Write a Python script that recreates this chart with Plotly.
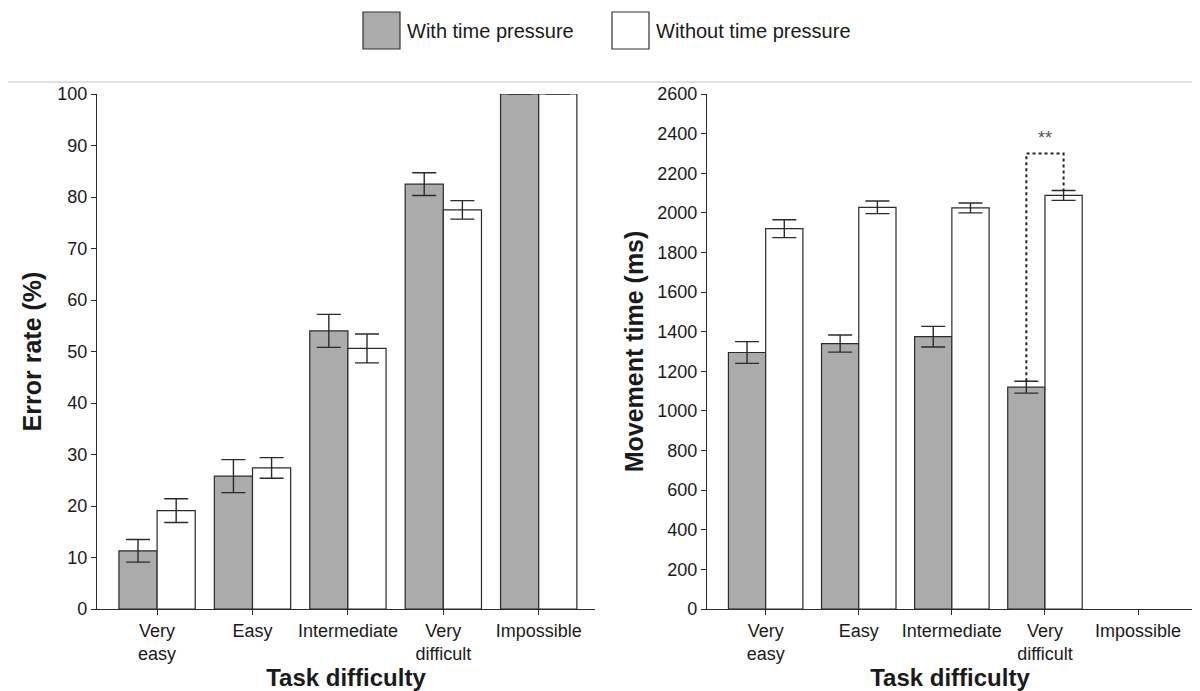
import plotly.graph_objects as go

categories = ["Very<br>easy", "Easy", "Intermediate", "Very<br>difficult", "Impossible"]

# Error rate (%)
err_with = [11.3, 25.8, 54.0, 82.5, 100.0]
err_with_sd = [2.2, 3.2, 3.2, 2.2, 0.0]
err_without = [19.1, 27.4, 50.6, 77.5, 100.0]
err_without_sd = [2.3, 2.0, 2.8, 1.8, 0.0]

# Movement time (ms)
mt_with = [1295, 1340, 1375, 1120, None]
mt_with_sd = [55, 43, 52, 30, None]
mt_without = [1920, 2028, 2025, 2088, None]
mt_without_sd = [45, 32, 25, 25, None]

series_names = ["With time pressure", "Without time pressure"]
sig_label = "**"
sig_height = 2300
sig_index = 3

GRAY = "#ababab"
EDGE = "#2b2b2b"
FONT = "Liberation Sans, Arial, sans-serif"
TXT = "#1a1a1a"

# page body has an 8px margin: figure is placed at (8, 8)
O = 8
W = 1200 - O
H = 691 - O

def fx(px):
    return (px - O) / W

def fy(py):
    return 1 - (py - O) / H

xpos = list(range(len(categories)))

fig = go.Figure()

def add_bars(vals, sds, fill, xa, ya, name):
    fig.add_trace(go.Bar(
        x=xpos, y=vals, name=name, xaxis=xa, yaxis=ya,
        marker=dict(color=fill, line=dict(color=EDGE, width=1.2)),
        error_y=dict(type="data", array=sds, visible=True, color=EDGE,
                     thickness=1.4, width=12),
        showlegend=False,
    ))

add_bars(err_with, err_with_sd, GRAY, "x", "y", series_names[0])
add_bars(err_without, err_without_sd, "white", "x", "y", series_names[1])
add_bars(mt_with, mt_with_sd, GRAY, "x2", "y2", series_names[0])
add_bars(mt_without, mt_without_sd, "white", "x2", "y2", series_names[1])

# significance bracket (dotted)
off = 0.2
fig.add_trace(go.Scatter(
    x=[sig_index - off, sig_index - off, sig_index + off, sig_index + off],
    y=[mt_with[sig_index] + mt_with_sd[sig_index], sig_height, sig_height,
       mt_without[sig_index] + mt_without_sd[sig_index]],
    mode="lines", line=dict(color="#222", width=2, dash="dot"),
    xaxis="x2", yaxis="y2", showlegend=False, hoverinfo="skip",
))
fig.add_annotation(x=sig_index, y=sig_height + 15, xref="x2", yref="y2",
                   text=sig_label, showarrow=False, yanchor="bottom",
                   font=dict(family=FONT, size=18, color="#555"))

xr = [-0.63, 4.59]
xcommon = dict(
    range=xr, tickvals=xpos, ticktext=categories, showline=True,
    linecolor=EDGE, linewidth=1.3, ticks="outside", ticklen=5, tickcolor=EDGE,
    tickfont=dict(family=FONT, size=18, color=TXT), showgrid=False,
    zeroline=False, automargin=False,
    title=dict(text="<b>Task difficulty</b>", standoff=0,
               font=dict(family=FONT, size=24, color=TXT)),
)
ycommon = dict(
    showline=True, linecolor=EDGE, linewidth=1.3, ticks="outside", ticklen=5,
    tickcolor=EDGE, tickfont=dict(family=FONT, size=18, color=TXT),
    showgrid=False, zeroline=False, automargin=False,
)

ydom = [fy(609), fy(94)]
fig.update_layout(
    width=W, height=H,
    margin=dict(l=0, r=0, t=0, b=0),
    paper_bgcolor="white", plot_bgcolor="white",
    barmode="group", bargap=0.2, bargroupgap=0,
    xaxis=dict(domain=[fx(97), fx(595)], anchor="y", **xcommon),
    xaxis2=dict(domain=[fx(707), fx(1193)], anchor="y2", **xcommon),
    yaxis=dict(domain=ydom, anchor="x", range=[0, 100], dtick=10,
               title=dict(text="<b>Error rate (%)</b>", standoff=8,
                          font=dict(family=FONT, size=25, color=TXT)),
               **ycommon),
    yaxis2=dict(domain=ydom, anchor="x2", range=[0, 2600], dtick=200,
                title=dict(text="<b>Movement time (ms)</b>", standoff=6,
                           font=dict(family=FONT, size=25, color=TXT)),
                **ycommon),
    font=dict(family=FONT, color=TXT),
)

# separator line under legend
fig.add_shape(type="line", xref="paper", yref="paper", x0=0, x1=1,
              y0=fy(82), y1=fy(82),
              line=dict(color="#c4c4c4", width=1.2))

# custom legend
legend_items = [(series_names[0], GRAY, 363), (series_names[1], "white", 612)]
for name, fill, px in legend_items:
    fig.add_shape(type="rect", xref="paper", yref="paper",
                  x0=fx(px), x1=fx(px + 37),
                  y0=fy(49), y1=fy(12),
                  fillcolor=fill, line=dict(color="#333", width=1.2))
    fig.add_annotation(xref="paper", yref="paper", x=fx(px + 42),
                       y=fy(31), text=name, showarrow=False,
                       xanchor="left", yanchor="middle",
                       font=dict(family=FONT, size=20, color=TXT))

fig.write_html("out.html")
